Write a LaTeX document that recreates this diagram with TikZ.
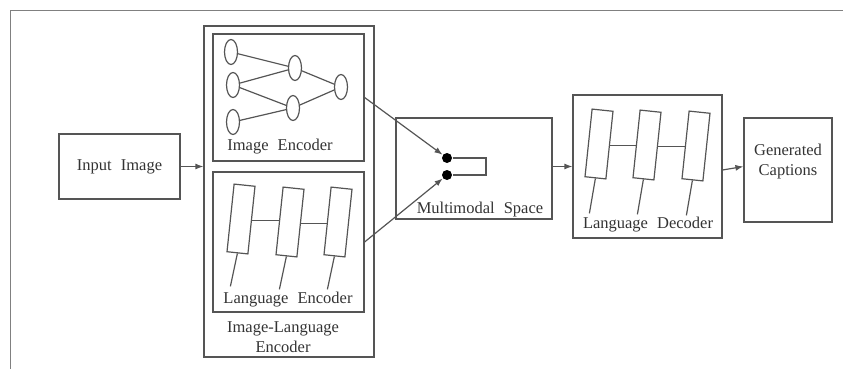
\documentclass[tikz,border=0pt]{standalone}
\usepackage{fontspec}
\setmainfont{Liberation Serif}
\usetikzlibrary{arrows,arrows.meta,shapes,positioning,calc}
\definecolor{linegray}{HTML}{555555}
\definecolor{textgray}{HTML}{333333}
\newcommand{\wgap}{\hspace{0.55em}}

\begin{document}
\begin{tikzpicture}[x=1pt, y=-1pt, line width=1.2pt, draw=linegray,
                    font=\fontsize{16.5}{20}\selectfont, text=textgray]
        \tikzstyle{block} = [rectangle, draw, inner sep=0pt]
        \tikzstyle{neuron} = [ellipse, draw, inner sep=0pt,
                              minimum width=13pt, minimum height=25pt]
        \tikzstyle{cell} = [rectangle, draw, inner sep=0pt,
                            minimum width=21pt, minimum height=68pt, rotate=-6]
        \tikzstyle{dot} = [circle, fill=black, inner sep=0pt, minimum size=10pt]
        \tikzstyle{arrow} = [draw, -{Latex[length=8pt,width=6pt]}]
        \useasboundingbox (0,0) rectangle (843,369);
        % page frame
        \draw[line width=0.9pt, draw=gray] (10,369) -- (10,10) -- (843,10);
        % boxes
        \node[block, minimum width=121pt, minimum height=65pt] (input)
          at (119.5,166.5) {Input\wgap Image};
        \node[block, minimum width=170pt, minimum height=331pt] (ilenc)
          at (289,191.5) {};
        \node[block, minimum width=151pt, minimum height=127pt] (imenc)
          at (288.5,97.5) {};
        \node[block, minimum width=151pt, minimum height=140pt] (lgenc)
          at (288.5,242) {};
        \node[block, minimum width=156pt, minimum height=101pt] (mm)
          at (474,168.5) {};
        \node[block, minimum width=149pt, minimum height=143pt] (dec)
          at (647.5,166.5) {};
        \node[block, minimum width=88pt, minimum height=104pt] (cap)
          at (788,170) {};
        % labels
        \node at (280,147) {Image\wgap Encoder};
        \node at (288,300) {Language\wgap Encoder};
        \node[align=center] at (283,337) {Image-Language\\Encoder};
        \node at (480,210) {Multimodal\wgap Space};
        \node at (648,225) {Language\wgap Decoder};
        \node[align=center] at (788,162) {Generated\\Captions};
        % image encoder network
        \node[neuron] (n1) at (231,52) {};
        \node[neuron] (n2) at (233,85) {};
        \node[neuron] (n3) at (233,122) {};
        \node[neuron] (h1) at (295,68) {};
        \node[neuron] (h2) at (293,108) {};
        \node[neuron] (o1) at (341,87) {};
        \draw (n1) -- (h1);
        \draw (n2) -- (h1);
        \draw (n2) -- (h2);
        \draw (n3) -- (h2);
        \draw (h1) -- (o1);
        \draw (h2) -- (o1);
        % language encoder cells
        \node[cell] (e1) at (241,219) {};
        \node[cell] (e2) at (290,222) {};
        \node[cell] (e3) at (338,222) {};
        \draw (e1.east) -- (e1.east -| e2.west);
        \draw (e2.east) -- (e2.east -| e3.west);
        \foreach \c in {e1,e2,e3}
          \draw (\c.south) -- ++(-7,33);
        % language decoder cells
        \node[cell] (d1) at (599,144) {};
        \node[cell] (d2) at (647,145) {};
        \node[cell] (d3) at (696,146) {};
        \draw (d1.east) -- (d1.east -| d2.west);
        \draw (d2.east) -- (d2.east -| d3.west);
        \foreach \c in {d1,d2,d3}
          \draw (\c.south) -- ++(-6,35);
        % multimodal space
        \node[dot] (m1) at (447,158) {};
        \node[dot] (m2) at (447,175) {};
        \coordinate (mloop) at (486,166);
        \draw (m1) -| (mloop) |- (m2);
        % arrows
        \path[arrow] (imenc.east) -- (m1);
        \path[arrow] (lgenc.east) -- (m2);
        \path[arrow] (input.east) -- (input.east -| ilenc.west);
        \path[arrow] (mm.east |- dec.west) -- (dec.west);
        \path[arrow] (dec.east |- cap.west) -- (dec.east -| cap.west);
      \end{tikzpicture}
\end{document}
